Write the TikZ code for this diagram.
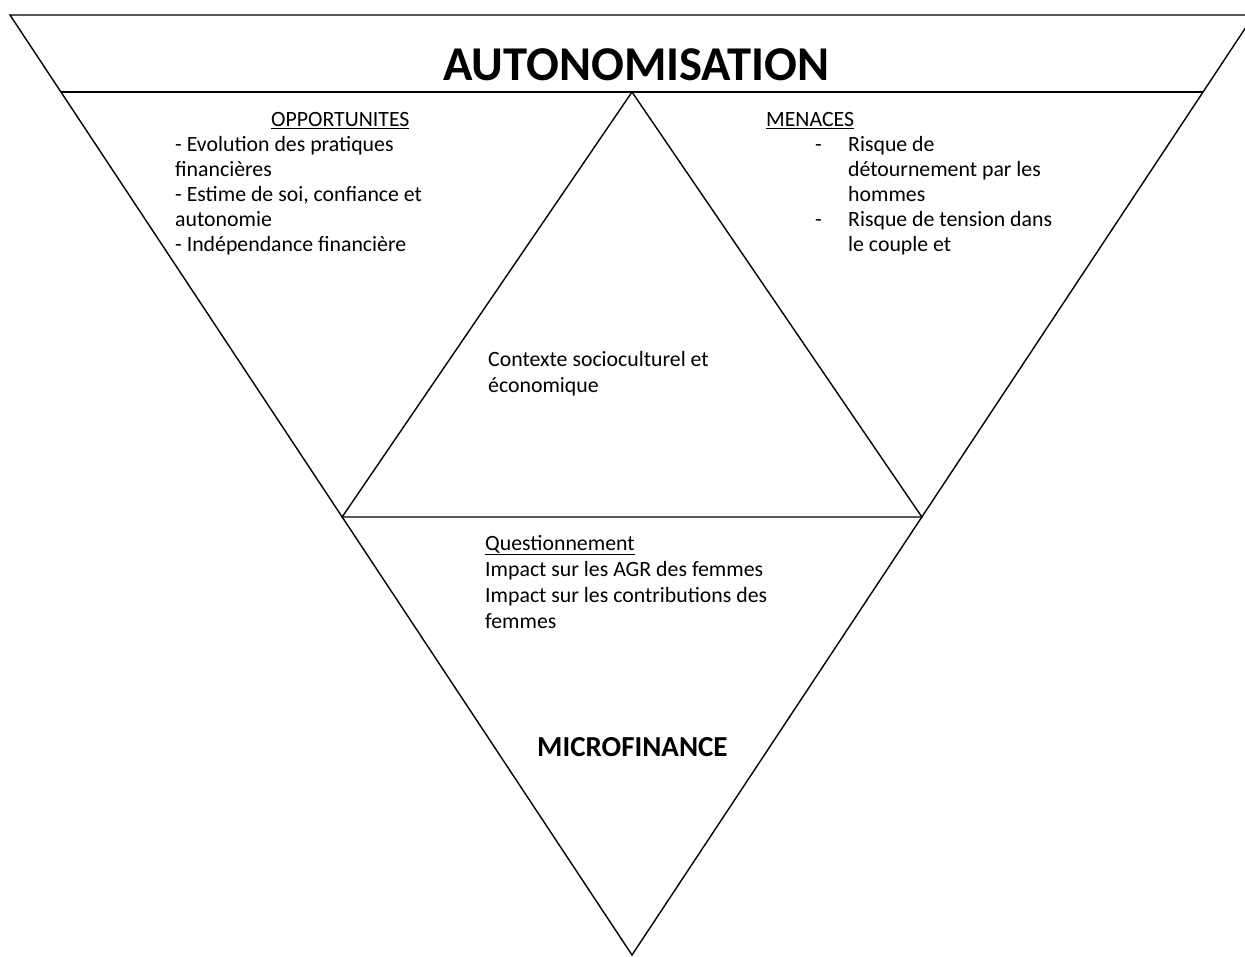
\documentclass[tikz,border=0pt]{standalone}
\usepackage{fontspec}
\setmainfont{Carlito}
\usetikzlibrary{calc}
\begin{document}
\begin{tikzpicture}[x=1pt,y=-1pt,
  edge/.style={line width=1.4pt, line join=miter},
  txt/.style={font=\fontsize{21.8}{25}\selectfont, anchor=base west, inner sep=0pt},
  bigtitle/.style={font=\fontsize{48.6}{56}\selectfont\bfseries, anchor=base west, inner sep=0pt},
  midtitle/.style={font=\fontsize{29}{32}\selectfont\bfseries, anchor=base west, inner sep=0pt}]
\useasboundingbox (0,0) rectangle (1245,957);
% outer triangle
\coordinate (TL) at (10,15);
\coordinate (TR) at (1254,15);
\coordinate (B) at (632,955);
\draw[edge] (TL) -- (TR) -- (B) -- cycle;
% band line
\coordinate (BL) at ($(TL)!0.0819!(B)$);
\coordinate (BR) at ($(TR)!0.0819!(B)$);
\draw[edge] (BL) -- (BR);
% inner triangle
\coordinate (IA) at (632,92);
\coordinate (IL) at ($(TL)!0.534!(B)$);
\coordinate (IR) at ($(TR)!0.534!(B)$);
\draw[edge] (IA) -- (IL) -- (IR) -- cycle;
% title
\node[bigtitle] (title) at (443,81) {AUTONOMISATION};
% opportunites
\node[txt] (opp) at (271,127) {\underline{OPPORTUNITES}};
\node[txt] (opp1) at (175,152) {- Evolution des pratiques};
\node[txt] (opp2) at (175,177) {financières};
\node[txt] (opp3) at (175,202) {- Estime de soi, confiance et};
\node[txt] (opp4) at (175,227) {autonomie};
\node[txt] (opp5) at (175,252) {- Indépendance financière};
% menaces
\node[txt] (men) at (766,127) {\underline{MENACES}};
\node[txt] (mend1) at (815,152) {-};
\node[txt] (men1) at (848,152) {Risque de};
\node[txt] (men2) at (848,177) {détournement par les};
\node[txt] (men3) at (848,202) {hommes};
\node[txt] (mend2) at (815,227) {-};
\node[txt] (men4) at (848,227) {Risque de tension dans};
\node[txt] (men5) at (848,252) {le couple et};
% contexte
\node[txt] (ctx1) at (488,367) {Contexte socioculturel et};
\node[txt] (ctx2) at (488,393) {économique};
% questionnement
\node[txt] (q0) at (485,550) {\underline{Questionnement}};
\node[txt] (q1) at (485,576) {Impact sur les AGR des femmes};
\node[txt] (q2) at (485,602) {Impact sur les contributions des};
\node[txt] (q3) at (485,628) {femmes};
% microfinance
\node[midtitle] (micro) at (537,756) {MICROFINANCE};
\end{tikzpicture}
\end{document}
